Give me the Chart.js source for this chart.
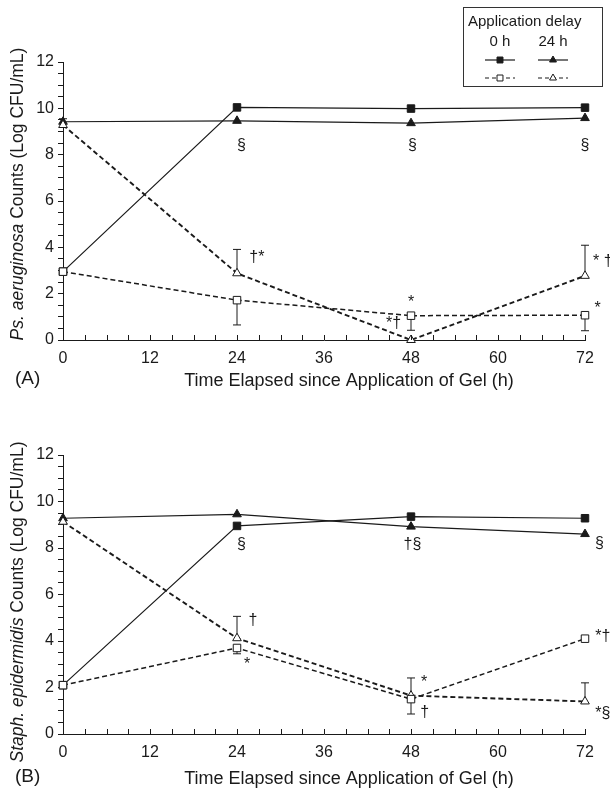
<!DOCTYPE html>
<html lang="en">
<head>
<meta charset="UTF-8">
<title>Bacterial counts after gel application</title>
<script src="https://cdn.jsdelivr.net/npm/chart.js"></script>
<style>
    body { margin: 0; background: #fff; }
    .page { position: relative; width: 610px; height: 809px; }
    .page canvas { position: absolute; left: 0; }
    #chartA { top: 0; }
    #chartB { top: 400px; }
</style>
</head>
<body>
<div class="page">
    <canvas id="chartA" width="610" height="400"></canvas>
    <canvas id="chartB" width="610" height="409"></canvas>
</div>
<script>
// time points (h)
const hours = [0, 24, 48, 72];

// (A) Ps. aeruginosa
const psSolid0 = [2.95, 10.04, 9.99, 10.03];
const psSolid24 = [9.42, 9.46, 9.36, 9.58];
const psOpen0 = [2.95, 1.72, 1.05, 1.07];
const psOpen24 = [9.28, 2.88, 0.0, 2.77];
const psOpen0Err = [null, 0.65, 0.42, 0.4];
const psOpen24Err = [9.55, 3.91, null, 4.09];
const psNotes = [
    { x: 24.6, y: 8.4, t: '§' }, { x: 48.2, y: 8.4, t: '§' }, { x: 72, y: 8.4, t: '§' },
    { x: 25.7, y: 3.55, t: '†*', left: true },
    { x: 48, y: 1.6, t: '*' },
    { x: 45.6, y: 0.7, t: '*†' },
    { x: 73.1, y: 3.4, t: '* †', left: true },
    { x: 73.3, y: 1.35, t: '*', left: true }
];

// (B) Staph. epidermidis
const stSolid0 = [2.1, 8.95, 9.35, 9.28];
const stSolid24 = [9.28, 9.45, 8.92, 8.6];
const stOpen0 = [2.1, 3.7, 1.5, 4.1];
const stOpen24 = [9.13, 4.12, 1.65, 1.4];
const stOpen0Err = [null, 3.45, 0.86, null];
const stOpen24Err = [null, 5.06, 2.41, 2.2];
const stNotes = [
    { x: 24.6, y: 8.13, t: '§' }, { x: 48.2, y: 8.13, t: '†§' }, { x: 74, y: 8.17, t: '§' },
    { x: 26.2, y: 4.87, t: '†' },
    { x: 25.4, y: 3.0, t: '*' },
    { x: 49.8, y: 2.2, t: '*' },
    { x: 49.9, y: 0.9, t: '†' },
    { x: 73.4, y: 4.2, t: '*†', left: true },
    { x: 73.4, y: 0.86, t: '*§', left: true }
];

const yTicks = [0, 2, 4, 6, 8, 10, 12];
const xTicks = [0, 12, 24, 36, 48, 60, 72];

const FONT = "'Liberation Sans', Arial, sans-serif";
const INK = '#1a1a1a';

function pts(vals) {
    return vals.map((v, i) => ({ x: hours[i], y: v }));
}

function series(vals, style) {
    const open = style === 'open0' || style === 'open24';
    const tri = style === 'solid24' || style === 'open24';
    return {
        data: pts(vals),
        borderColor: INK,
        borderWidth: open ? (tri ? 1.9 : 1.5) : 1.2,
        borderDash: open ? [5, 3] : [],
        pointStyle: tri ? 'triangle' : 'rect',
        pointRadius: tri ? 5 : 5.3,
        pointBorderWidth: 1,
        pointBorderColor: INK,
        pointBackgroundColor: open ? '#fff' : INK,
        tension: 0,
        clip: false
    };
}

function drawMarker(ctx, style, filled, x, y, r) {
    ctx.fillStyle = filled ? INK : '#fff';
    ctx.strokeStyle = INK;
    ctx.lineWidth = 1;
    ctx.setLineDash([]);
    Chart.helpers.drawPoint(ctx, { pointStyle: style, radius: r, rotation: 0, borderWidth: 1 }, x, y);
}

function drawLegend(ctx) {
    ctx.save();
    ctx.strokeStyle = '#333';
    ctx.lineWidth = 1;
    ctx.strokeRect(463.5, 7.5, 139, 79);
    ctx.fillStyle = INK;
    ctx.font = '15px ' + FONT;
    ctx.textBaseline = 'middle';
    ctx.textAlign = 'left';
    ctx.fillText('Application delay', 468, 22);
    ctx.textAlign = 'center';
    ctx.fillText('0 h', 500, 42);
    ctx.fillText('24 h', 553, 42);
    [[60, true], [78, false]].forEach(([y, solid]) => {
        [[500, 'rect', 4.2], [553, 'triangle', 4]].forEach(([cx, st, r]) => {
            ctx.strokeStyle = INK;
            ctx.lineWidth = 1.2;
            ctx.setLineDash(solid ? [] : [4, 3]);
            ctx.beginPath();
            ctx.moveTo(cx - 15, y);
            ctx.lineTo(cx + 15, y);
            ctx.stroke();
            drawMarker(ctx, st, solid, cx, y, r);
        });
    });
    ctx.restore();
}

function makeChart(id, cfg) {
    const decor = {
        id: 'decor' + id,
        beforeDatasetsDraw(chart) {
            const ctx = chart.ctx;
            const ys = chart.scales.y;
            ctx.save();
            ctx.strokeStyle = INK;
            ctx.lineWidth = 1;
            cfg.errors.forEach(([di, errs]) => {
                const meta = chart.getDatasetMeta(di);
                errs.forEach((e, j) => {
                    if (e === null) return;
                    const p = meta.data[j];
                    const y1 = ys.getPixelForValue(e);
                    ctx.beginPath();
                    ctx.moveTo(p.x, p.y);
                    ctx.lineTo(p.x, y1);
                    ctx.moveTo(p.x - 4, y1);
                    ctx.lineTo(p.x + 4, y1);
                    ctx.stroke();
                });
            });
            ctx.restore();
        },
        afterDraw(chart) {
            const ctx = chart.ctx;
            const xs = chart.scales.x, ys = chart.scales.y;
            const area = chart.chartArea;
            ctx.save();
            // inward x ticks
            ctx.strokeStyle = INK;
            ctx.lineWidth = 1;
            for (let h = 0; h <= 72; h += 3) {
                const px = Math.round(xs.getPixelForValue(h)) + 0.5;
                ctx.beginPath();
                ctx.moveTo(px, area.bottom);
                ctx.lineTo(px, area.bottom - 5);
                ctx.stroke();
            }
            // y title, italic species + plain rest
            ctx.fillStyle = INK;
            ctx.textBaseline = 'middle';
            ctx.translate(cfg.yTitle.x, cfg.yTitle.y);
            ctx.rotate(-Math.PI / 2);
            const itFont = 'italic 17.5px ' + FONT, upFont = '17.5px ' + FONT;
            ctx.font = itFont;
            const w1 = ctx.measureText(cfg.species).width;
            ctx.font = upFont;
            const w2 = ctx.measureText(' Counts (Log CFU/mL)').width;
            ctx.textAlign = 'left';
            ctx.font = itFont;
            ctx.fillText(cfg.species, -(w1 + w2) / 2, 0);
            ctx.font = upFont;
            ctx.fillText(' Counts (Log CFU/mL)', -(w1 + w2) / 2 + w1, 0);
            ctx.setTransform(1, 0, 0, 1, 0, 0);
            // x title and panel letter
            ctx.textAlign = 'center';
            ctx.font = '18px ' + FONT;
            ctx.fillText('Time Elapsed since Application of Gel (h)', 349, cfg.xTitleY);
            ctx.textAlign = 'left';
            ctx.font = '19px ' + FONT;
            ctx.fillText(cfg.letter, 15, cfg.xTitleY - 2);
            // significance marks
            ctx.font = '16px ' + FONT;
            cfg.notes.forEach(n => {
                ctx.textAlign = n.left ? 'left' : 'center';
                ctx.fillText(n.t, xs.getPixelForValue(n.x), ys.getPixelForValue(n.y));
            });
            ctx.restore();
            if (cfg.legend) drawLegend(ctx);
        }
    };

    return new Chart(document.getElementById(id), {
        type: 'line',
        data: {
            datasets: [
                series(cfg.open0, 'open0'),
                series(cfg.open24, 'open24'),
                series(cfg.solid0, 'solid0'),
                series(cfg.solid24, 'solid24')
            ]
        },
        options: {
            responsive: false,
            animation: false,
            devicePixelRatio: 1,
            layout: { padding: { top: cfg.top, right: 25, left: 0, bottom: 0 } },
            plugins: { legend: { display: false }, tooltip: { enabled: false } },
            scales: {
                x: {
                    type: 'linear', min: 0, max: 72,
                    afterFit: s => { s.height = cfg.xHeight; },
                    grid: { display: true, drawOnChartArea: false, drawTicks: false },
                    border: { display: true, color: INK, width: 1 },
                    ticks: {
                        stepSize: 12, autoSkip: false, maxRotation: 0, padding: 9,
                        color: INK, font: { family: FONT, size: 16 }
                    },
                    afterBuildTicks: s => { s.ticks = xTicks.map(v => ({ value: v })); }
                },
                y: {
                    min: 0, max: 12,
                    afterFit: s => { s.width = 63; },
                    grid: { drawOnChartArea: false, drawTicks: true, tickLength: 5, color: INK },
                    border: { display: true, color: INK, width: 1 },
                    ticks: {
                        stepSize: 0.5, autoSkip: false, padding: 4, color: INK,
                        font: { family: FONT, size: 16 },
                        callback: v => (yTicks.includes(v) ? v : '')
                    }
                }
            }
        },
        plugins: [decor]
    });
}

makeChart('chartA', {
    solid0: psSolid0, solid24: psSolid24, open0: psOpen0, open24: psOpen24,
    errors: [[0, psOpen0Err], [1, psOpen24Err]],
    notes: psNotes,
    species: 'Ps. aeruginosa',
    yTitle: { x: 18, y: 194 },
    xTitleY: 381, letter: '(A)',
    top: 62, xHeight: 60, legend: true
});

makeChart('chartB', {
    solid0: stSolid0, solid24: stSolid24, open0: stOpen0, open24: stOpen24,
    errors: [[0, stOpen0Err], [1, stOpen24Err]],
    notes: stNotes,
    species: 'Staph. epidermidis',
    yTitle: { x: 18, y: 202 },
    xTitleY: 379, letter: '(B)',
    top: 55, xHeight: 75, legend: false
});
</script>
</body>
</html>
